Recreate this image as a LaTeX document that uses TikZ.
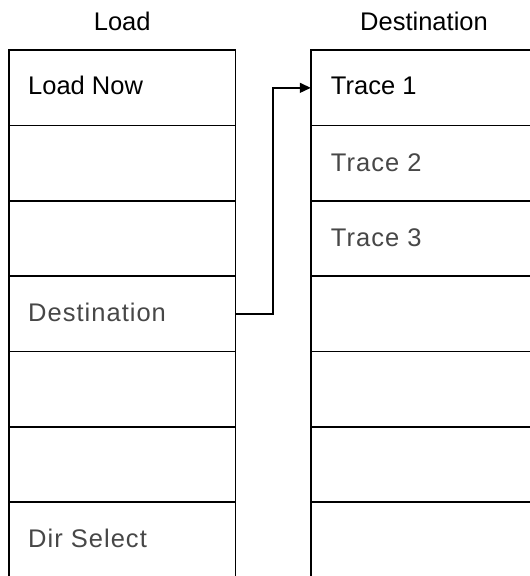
\documentclass[tikz,border=0pt]{standalone}
\usepackage{fontspec}
\setmainfont{Liberation Sans}
\newfontfamily\spacedfont[LetterSpace=4]{Liberation Sans}
\usetikzlibrary{arrows.meta,calc}
\begin{document}
\begin{tikzpicture}[x=1pt,y=-1pt,
  cell/.style={draw, line width=1.7pt, minimum width=226.5pt, minimum height=75.3pt, inner sep=0pt, outer sep=0pt},
  bigtext/.style={font=\fontsize{25.5}{30}\selectfont, inner sep=0pt, text=black},
  graytext/.style={font=\fontsize{25.5}{30}\selectfont\spacedfont, inner sep=0pt, text=black!72},
  link/.style={line width=1.5pt, -{Triangle[length=11pt,width=10pt]}}]
\useasboundingbox (0,0) rectangle (530,576);
% titles
\node[bigtext, anchor=base] (tl) at (122.25,30) {Load};
\node[bigtext, anchor=base] (tr) at (424,30) {Destination};
% cells
\foreach \i in {1,...,7}{
  \node[cell] (l\i) at (122.25,{50.2+75.3*(\i-0.5)}) {};
  \node[cell] (r\i) at (424,{50.2+75.3*(\i-0.5)}) {};
}
% left texts
\node[bigtext, anchor=base west] (lt1) at ([xshift=19pt,yshift=-7pt]l1.west) {Load Now};
\node[graytext, anchor=base west] (lt4) at ([xshift=19pt,yshift=-8pt]l4.west) {Destination};
\node[graytext, anchor=base west] (lt7) at ([xshift=19pt,yshift=-8pt]l7.west) {Dir Select};
% right texts
\node[bigtext, anchor=base west] (rt1) at ([xshift=20pt,yshift=-7pt]r1.west) {Trace 1};
\node[graytext, anchor=base west] (rt2) at ([xshift=20pt,yshift=-8pt]r2.west) {Trace 2};
\node[graytext, anchor=base west] (rt3) at ([xshift=20pt,yshift=-8pt]r3.west) {Trace 3};
% connector
\coordinate (bend) at (273,0);
\draw[link] (l4.east) -| (bend |- r1.west) -- (r1.west);
\end{tikzpicture}
\end{document}
